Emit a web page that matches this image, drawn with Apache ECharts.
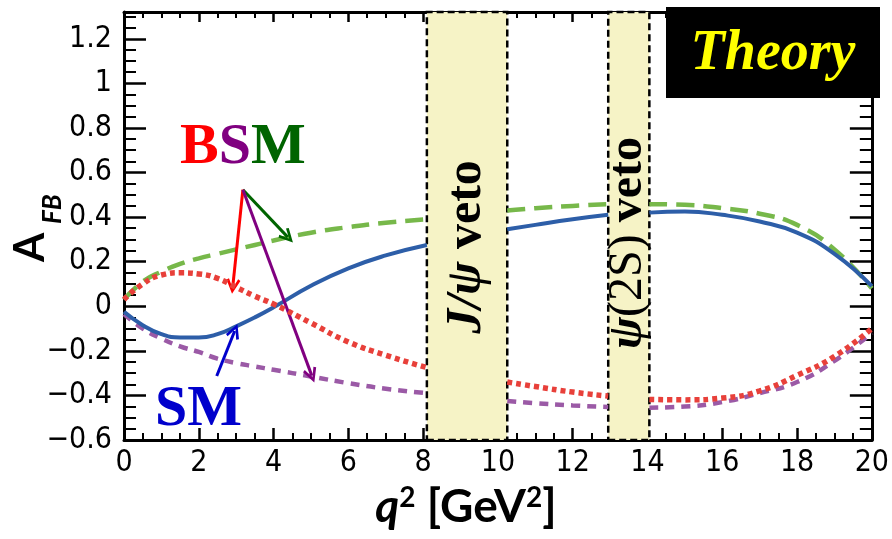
<!DOCTYPE html>
<html><head><meta charset="utf-8">
<script src="https://cdn.jsdelivr.net/npm/echarts@6/dist/echarts.min.js"></script>
<style>html,body{margin:0;padding:0;background:#fff}#c{width:892px;height:539px}</style>
</head><body><div id="c"></div>
<script>
// ---- data ----
const q2        = [0, 0.5, 1, 1.5, 2, 2.5, 3, 3.5, 4, 5, 6, 7, 8.1, 9.2, 10.25, 11, 12, 12.95, 13.5, 14.05, 15, 16, 17, 18, 19, 20];
const smBlue    = [-0.025,-0.085,-0.125,-0.14,-0.14,-0.125,-0.09,-0.05,-0.005,0.092,0.17,0.228,0.275,null,0.345,0.365,0.39,0.41,null,0.42,0.425,0.41,0.38,0.33,0.235,0.09];
const bsmGreen  = [0.03,0.11,0.155,0.19,0.215,0.235,0.255,0.275,0.295,0.33,0.355,0.375,0.39,null,0.43,0.44,0.45,0.458,null,0.458,0.455,0.44,0.415,0.365,0.255,0.08];
const bsmRed    = [0.03,0.1,0.14,0.15,0.145,0.125,0.085,0.045,0.01,-0.075,-0.16,-0.22,-0.275,null,-0.34,-0.36,-0.385,-0.403,null,-0.418,-0.42,-0.412,-0.38,-0.31,-0.225,-0.1];
const bsmPurple = [-0.035,-0.1,-0.145,-0.18,-0.205,-0.235,-0.255,-0.27,-0.285,-0.315,-0.345,-0.37,-0.39,null,-0.425,-0.435,-0.445,-0.452,null,-0.455,-0.45,-0.43,-0.39,-0.34,-0.245,-0.12];
const vetoBands  = [[8.1, 10.25], [12.95, 14.05]];
const xTickValues = [0,2,4,6,8,10,12,14,16,18,20];
const xTickLabels = ['0','2','4','6','8','10','12','14','16','18','20'];
const yTickValues = [-0.6,-0.4,-0.2,0,0.2,0.4,0.6,0.8,1,1.2];
const yTickLabels = ['\u22120.6','\u22120.4','\u22120.2','0','0.2','0.4','0.6','0.8','1','1.2'];
// annotation arrows [from, to, colour] in data coordinates
const bsmArrows = [[[3.18,0.523],[4.38,0.31],'#006400'],[[3.18,0.523],[2.91,0.09],'#ff0000'],[[3.18,0.523],[5.02,-0.31],'#800080']];
const smArrows  = [[[2.48,-0.313],[2.96,-0.111],'#0000cc']];

const pairs = v => q2.map((x,i)=>[x, v[i]]);
const tickFont = "'Liberation Sans Narrow','DejaVu Sans Condensed','Roboto Condensed','Liberation Sans',sans-serif";
const labelFrom = (vals, labs) => v => {
  for (let i=0;i<vals.length;i++) if (Math.abs(v-vals[i])<1e-6) return labs[i];
  return '';
};
const chevron = 'path://M5,0 L10,9 L8.3,10 L5,3.6 L1.7,10 L0,9 Z';

function xAx(pos){
  const top = pos==='top';
  return {type:'value', position:pos, min:0, max:20, interval:2,
    axisLine:{onZero:false, lineStyle:{color:'#000', width:3}},
    axisTick:{inside:true, length: top?10:12, lineStyle:{color:'#000', width:2.5}},
    minorTick:{show:true, splitNumber:4, length: top?6:7, lineStyle:{color:'#000', width:2}},
    splitLine:{show:false}, minorSplitLine:{show:false},
    axisLabel:{show:!top, margin:8, fontSize:30, fontFamily:tickFont, color:'#000', formatter:labelFrom(xTickValues,xTickLabels)}};
}
function yAx(pos){
  const right = pos==='right';
  return {type:'value', position:pos, min:-0.6, max:1.32, interval:0.2,
    axisLine:{onZero:false, lineStyle:{color:'#000', width:3}},
    axisTick:{inside:true, length:22, lineStyle:{color:'#000', width:2.5}},
    minorTick:{show:true, splitNumber:4, length:12, lineStyle:{color:'#000', width:2}},
    splitLine:{show:false}, minorSplitLine:{show:false},
    axisLabel:{show:!right, margin:12, fontSize:30, fontFamily:tickFont, color:'#000', formatter:labelFrom(yTickValues,yTickLabels)}};
}
function arrowLines(list){
  return list.map(a=>[{coord:a[0], lineStyle:{color:a[2], width:3, type:'solid'}, itemStyle:{color:a[2]}, symbol:'none'},{coord:a[1], symbol:chevron}]);
}

const chart = echarts.init(document.getElementById('c'), null, {renderer:'canvas'});
chart.setOption({
  animation:false,
  backgroundColor:'#fff',
  grid:{left:124, right:19, top:12, bottom:99},
  xAxis:[xAx('bottom'), xAx('top')],
  yAxis:[yAx('left'), yAx('right')],
  series:[
    {type:'line', name:'veto', data:[], z:1,
     markArea:{silent:true, itemStyle:{color:'#f6f3c6', borderColor:'#000', borderWidth:2.5, borderType:[7,4]},
       data: vetoBands.map(b=>[{xAxis:b[0]},{xAxis:b[1]}])}},
    {type:'line', name:'BSM purple', data:pairs(bsmPurple), smooth:true, showSymbol:false, connectNulls:false, z:3,
     lineStyle:{color:'#9b5aa6', width:4.5, type:[9,7]}},
    {type:'line', name:'SM', data:pairs(smBlue), smooth:true, showSymbol:false, connectNulls:false, z:4,
     lineStyle:{color:'#2d5ea8', width:4, type:'solid'}},
    {type:'line', name:'BSM green', data:pairs(bsmGreen), smooth:true, showSymbol:false, connectNulls:false, z:3,
     lineStyle:{color:'#77b84a', width:4.5, type:[18,9]}},
    {type:'line', name:'BSM red', data:pairs(bsmRed), smooth:true, showSymbol:false, connectNulls:false, z:5,
     lineStyle:{color:'#e8403a', width:5.5, type:[5,4]}},
    {type:'line', name:'arrows', data:[], z:6,
     markLine:{silent:true, animation:false, symbolSize:[14,15], label:{show:false},
       lineStyle:{width:3, type:'solid'},
       data: arrowLines(bsmArrows.concat(smArrows))}}
  ]
});

// annotation texts
const band = vetoBands.map(b=>chart.convertToPixel({xAxisIndex:0}, (b[0]+b[1])/2));
const serif = "'Liberation Serif','Times New Roman',serif";
chart.setOption({graphic:[
  {type:'rect', z:100, shape:{x:666, y:7, width:214, height:91}, style:{fill:'#000'}},
  {type:'text', z:101, x:773, y:55, style:{text:'Theory', fill:'#ffff00', font:"italic bold 56px "+serif, align:'center', verticalAlign:'middle'}},
  {type:'text', z:101, x:180, y:148, style:{text:'{r|B}{p|S}{g|M}', font:"bold 58px "+serif, align:'left', verticalAlign:'middle',
     rich:{r:{fill:'#ff0000', font:"bold 58px "+serif}, p:{fill:'#800080', font:"bold 58px "+serif}, g:{fill:'#006400', font:"bold 58px "+serif}}}},
  {type:'text', z:101, x:155, y:410, style:{text:'SM', fill:'#0000cc', font:"bold 58px "+serif, align:'left', verticalAlign:'middle'}},
  {type:'text', z:101, x:band[0], y:247, rotation:Math.PI/2, style:{text:'{i|J/\u03c8}{n| veto}', align:'center', verticalAlign:'middle',
     rich:{i:{font:"italic bold 50px "+serif, fill:'#000'}, n:{font:"bold 50px "+serif, fill:'#000'}}}},
  {type:'text', z:101, x:band[1], y:243, rotation:Math.PI/2, style:{text:'{i|\u03c8}{m|(2S)}{n| veto}', align:'center', verticalAlign:'middle',
     rich:{i:{font:"italic bold 48px "+serif, fill:'#000'}, m:{font:"48px "+serif, fill:'#000'}, n:{font:"bold 48px "+serif, fill:'#000'}}}},
  {type:'text', z:101, x:30, y:262, rotation:Math.PI/2, style:{text:'A', fill:'#000', font:"bold 42px Lato, 'Open Sans', sans-serif", align:'left', verticalAlign:'middle'}},
  {type:'text', z:101, x:53, y:224, rotation:Math.PI/2, style:{text:'FB', fill:'#000', font:"italic bold 26px Lato, 'Open Sans', sans-serif", align:'left', verticalAlign:'middle'}},
  {type:'text', z:101, x:466, y:507, style:{text:'{q|q}{s|2}{n| [GeV}{s|2}{n|]}', align:'center', verticalAlign:'middle',
     rich:{q:{font:"italic bold 46px Lato, 'Open Sans', sans-serif", fill:'#000', lineHeight:46},
           s:{font:"bold 28px Lato, 'Open Sans', sans-serif", fill:'#000', verticalAlign:'top', lineHeight:46},
           n:{font:"bold 46px Lato, 'Open Sans', sans-serif", fill:'#000', lineHeight:46}}}}
]});
</script>
</body></html>
